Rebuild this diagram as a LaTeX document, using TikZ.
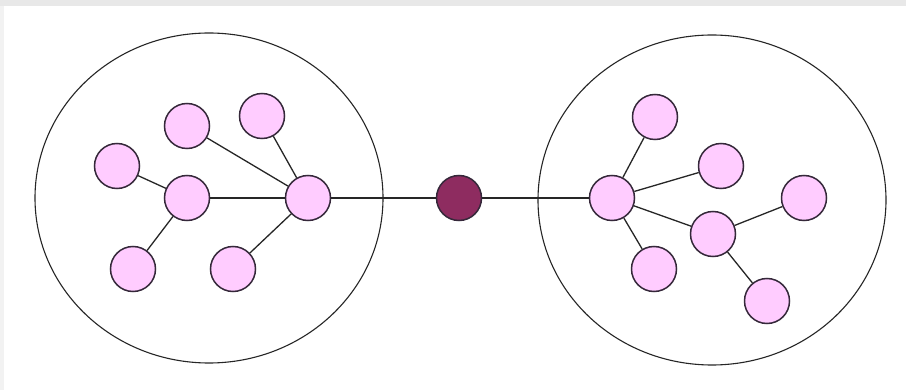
\documentclass[tikz,border=0pt]{standalone}
\begin{document}
\begin{tikzpicture}[x=1pt,y=-1pt,
  small/.style={circle,draw=outl,line width=1.5pt,fill=pinkfill,minimum size=45pt,inner sep=0pt},
  hubmid/.style={circle,draw=outl,line width=1.5pt,fill=midfill,minimum size=45pt,inner sep=0pt},
  link/.style={draw=black!85,line width=1.3pt}]
\definecolor{pinkfill}{HTML}{FFCCFF}
\definecolor{midfill}{HTML}{8E2C60}
\definecolor{outl}{HTML}{35283A}
\useasboundingbox (0,0) rectangle (906,390);
\fill[white] (0,0) rectangle (906,390);
\fill[black!9] (0,0) rectangle (906,6);
\fill[black!5] (0,6) rectangle (4,390);
% big circles (drawn directly, shapes)
\draw[draw=black!85,line width=1.1pt] (209,198) ellipse [x radius=174, y radius=165];
\draw[draw=black!85,line width=1.1pt] (712,200) ellipse [x radius=174, y radius=165];
% left cluster
\node[small] (a) at (117,166) {};
\node[small] (b) at (187,126) {};
\node[small] (c) at (262,116) {};
\node[small] (d) at (187,198) {};
\node[small] (e) at (308,198) {};
\node[small] (f) at (133,269) {};
\node[small] (g) at (233,269) {};
% middle
\node[hubmid] (m) at (459,198) {};
% right cluster
\node[small] (h) at (612,198) {};
\node[small] (i) at (655,117) {};
\node[small] (j) at (721,166) {};
\node[small] (k) at (713,234) {};
\node[small] (l) at (804,198) {};
\node[small] (n) at (654,269) {};
\node[small] (o) at (767,301) {};
% links
\draw[link] (a) -- (d);
\draw[link] (d) -- (f);
\draw[link] (d) -- (e);
\draw[link] (b) -- (e);
\draw[link] (c) -- (e);
\draw[link] (g) -- (e);
\draw[link] (e) -- (m);
\draw[link] (m) -- (h);
\draw[link] (h) -- (i);
\draw[link] (h) -- (j);
\draw[link] (h) -- (k);
\draw[link] (h) -- (n);
\draw[link] (k) -- (l);
\draw[link] (k) -- (o);
\end{tikzpicture}
\end{document}
